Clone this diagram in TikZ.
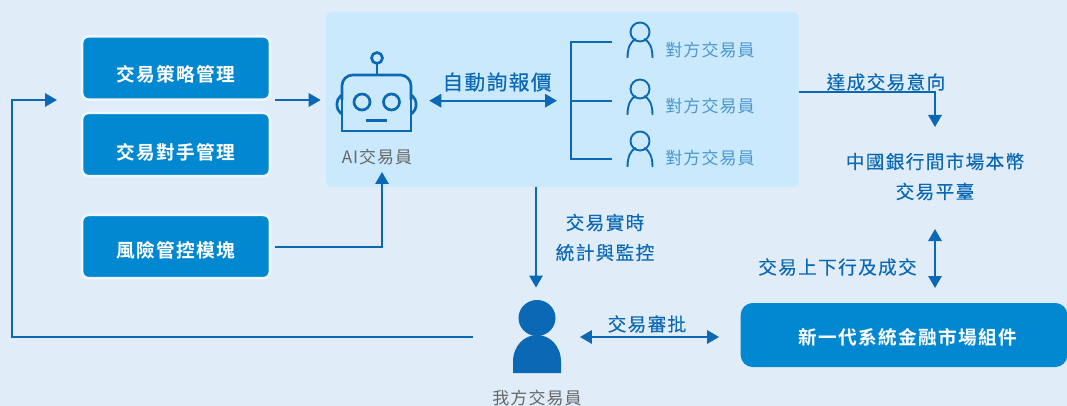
\documentclass[tikz,border=0pt]{standalone}
\usepackage{fontspec}
\setmainfont{Noto Sans CJK TC}
\newfontfamily\boxfont[LetterSpace=7]{Noto Sans CJK TC Bold}
\newfontfamily\linkfont[LetterSpace=7,FakeBold=0.25]{Noto Sans CJK TC}
\newfontfamily\thinfont[LetterSpace=6]{Noto Sans CJK TC}
\usetikzlibrary{arrows.meta, positioning}
\definecolor{pagebg}{HTML}{E0EDF9}
\definecolor{panelbg}{HTML}{CBE9FC}
\definecolor{boxblue}{HTML}{0288D1}
\definecolor{halo}{HTML}{EEF5FC}
\definecolor{lineblue}{HTML}{0A68B5}
\definecolor{peerblue}{HTML}{4A97CF}
\definecolor{greytext}{HTML}{666666}
\tikzstyle{modbox} = [rectangle, rounded corners=5pt, minimum width=141pt, minimum height=47.5pt, draw=halo, line width=2pt, fill=boxblue]
\tikzstyle{mainbox} = [rectangle, rounded corners=9pt, minimum width=245pt, minimum height=48pt, fill=boxblue]
\tikzstyle{boxtext} = [text=white, font=\boxfont\fontsize{14pt}{16pt}\selectfont, inner sep=0pt]
\tikzstyle{linktext} = [text=lineblue, font=\linkfont\fontsize{14pt}{16pt}\selectfont, align=center, inner sep=0pt]
\tikzstyle{peertext} = [text=peerblue, font=\thinfont\fontsize{12.75pt}{14pt}\selectfont, inner sep=0pt]
\tikzstyle{rolegrey} = [text=greytext, font=\thinfont\fontsize{12.75pt}{14pt}\selectfont, inner sep=0pt]
\tikzstyle{icon} = [draw=lineblue, line width=1.4pt]
\tikzstyle{roboticon} = [draw=lineblue, line width=2pt]
\tikzstyle{arrow} = [draw=lineblue, line width=1.5pt, -{Triangle[length=9pt,width=10pt]}]
\tikzstyle{dblarrow} = [draw=lineblue, line width=1.5pt, {Triangle[length=9pt,width=10pt]}-{Triangle[length=9pt,width=10pt]}]
\tikzstyle{plainline} = [draw=lineblue, line width=1.6pt]
\newcommand{\peericon}[2]{%
  \draw [icon] (#1,#2-26) circle (9.5);
  \draw [icon] (#1-12.5,#2) .. controls (#1-12.5,#2-11) and (#1-9,#2-17) .. (#1-4,#2-19);
  \draw [icon] (#1+12.5,#2) .. controls (#1+12.5,#2-11) and (#1+9,#2-17) .. (#1+4,#2-19);
}
\begin{document}
\begin{tikzpicture}[x=0.75pt, y=-0.75pt]
\useasboundingbox [fill=pagebg] (0,0) rectangle (1067,406);

\fill [panelbg, rounded corners=4pt] (326,12) rectangle (799,187);
\coordinate (panelbottom) at (536,187);
\coordinate (paneledge) at (799,92);

\node (strat) [modbox] at (176,68) {};
\node (counter) [modbox, below of=strat, node distance=57.4pt] {};
\node (risk) [modbox, below of=counter, node distance=76.5pt] {};
\node (strattext) [boxtext, below of=strat, node distance=5pt] {交易策略管理};
\node (countertext) [boxtext, below of=counter, node distance=5.5pt] {交易對手管理};
\node (risktext) [boxtext, below of=risk, node distance=2.5pt] {風險管控模塊};
\coordinate (inlet) at (57,100);

% robot
\node (robot) [minimum width=60pt, minimum height=42pt, inner sep=0pt] at (377,103) {};
\node (robotlabel) [rolegrey, below of=robot, node distance=40.5pt] {AI交易員};
\coordinate (aiin) at (382,172);
\draw [roboticon] (377,58) circle (5.5);
\draw [roboticon] (377,64) -- (377,75);
\draw [roboticon, rounded corners=8pt] (342,100) -- (342,75) -- (411,75) -- (411,100);
\draw [roboticon] (342,100) -- (342,131) -- (411,131) -- (411,100);
\draw [roboticon, rounded corners=3pt] (342,95) -- (337,99) -- (337,110) -- (342,114);
\draw [roboticon, rounded corners=3pt] (411,95) -- (416,99) -- (416,110) -- (411,114);
\draw [roboticon] (362,102) circle (8);
\draw [roboticon] (391.5,102) circle (8);
\draw [roboticon] (366,120.7) -- (387,120.7);

% peers
\coordinate (fork) at (571,100.7);
\coordinate (forktop) at (612,42);
\coordinate (forkmid) at (612,100.7);
\coordinate (forkbot) at (612,159);
\draw [plainline] (forktop) -| (fork) |- (forkbot);
\draw [plainline] (fork) -- (forkmid);
\peericon{640}{58}
\peericon{640}{115}
\peericon{640}{167}
\node (peer1) [peertext] at (710,50) {對方交易員};
\node (peer2) [peertext, below of=peer1, node distance=42pt] {對方交易員};
\node (peer3) [peertext, below of=peer2, node distance=39pt] {對方交易員};

% right side
\node (cfets) [linktext] at (935,176.5) {中國銀行間市場本幣\\[6.5pt]交易平臺};
\coordinate (cfetsin) at (935,127);
\coordinate (cfetsup) at (935,229);
\coordinate (cfetsdn) at (935,288);
\node (cmds) [mainbox] at (904,335) {};
\node (cmdstext) [boxtext] at (908,337) {新一代系統金融市場組件};

% trader
\node (trader) [minimum width=36pt, minimum height=55pt, inner sep=0pt] at (537,336.5) {};
\fill [lineblue] (537,318) ellipse (18.5 and 18);
\fill [lineblue] (513,373) -- (513,362) .. controls (513,345) and (525,335) .. (537,335) .. controls (549,335) and (561,345) .. (561,362) -- (561,373) -- cycle;
\node (traderlabel) [rolegrey, below of=trader, node distance=46pt] {我方交易員};

% links
\draw [arrow, shorten <=3pt] (strat.east |- inlet) -- ([xshift=-12pt]robot.west |- inlet);
\draw [arrow, shorten <=3pt] (risk.east) -| (aiin);
\draw [dblarrow] ([xshift=9pt]robot.east |- fork) -- ([xshift=-10.5pt]fork);
\draw [arrow] ([xshift=-30pt]trader.west) -- ++(-461,0) |- (inlet);
\draw [arrow] (panelbottom) -- ([yshift=9pt]trader.north -| panelbottom);
\draw [arrow] (paneledge) -| (cfetsin);
\draw [dblarrow] (cfetsup) -- (cfetsdn);
\draw [dblarrow] ([xshift=14pt]trader.east |- cmdstext) -- ([xshift=-16pt]cmds.west |- cmdstext);

\node (quote) [linktext, font=\linkfont\fontsize{15.5pt}{18pt}\selectfont] at (497,82) {自動詢報價};
\node (intent) [linktext] at (886,82) {達成交易意向};
\node (monitor) [linktext] at (605,237.5) {交易實時\\[6.5pt]統計與監控};
\node (order) [linktext] at (837.5,267) {交易上下行及成交};
\node (approve) [linktext] at (647,324) {交易審批};
\end{tikzpicture}
\end{document}
